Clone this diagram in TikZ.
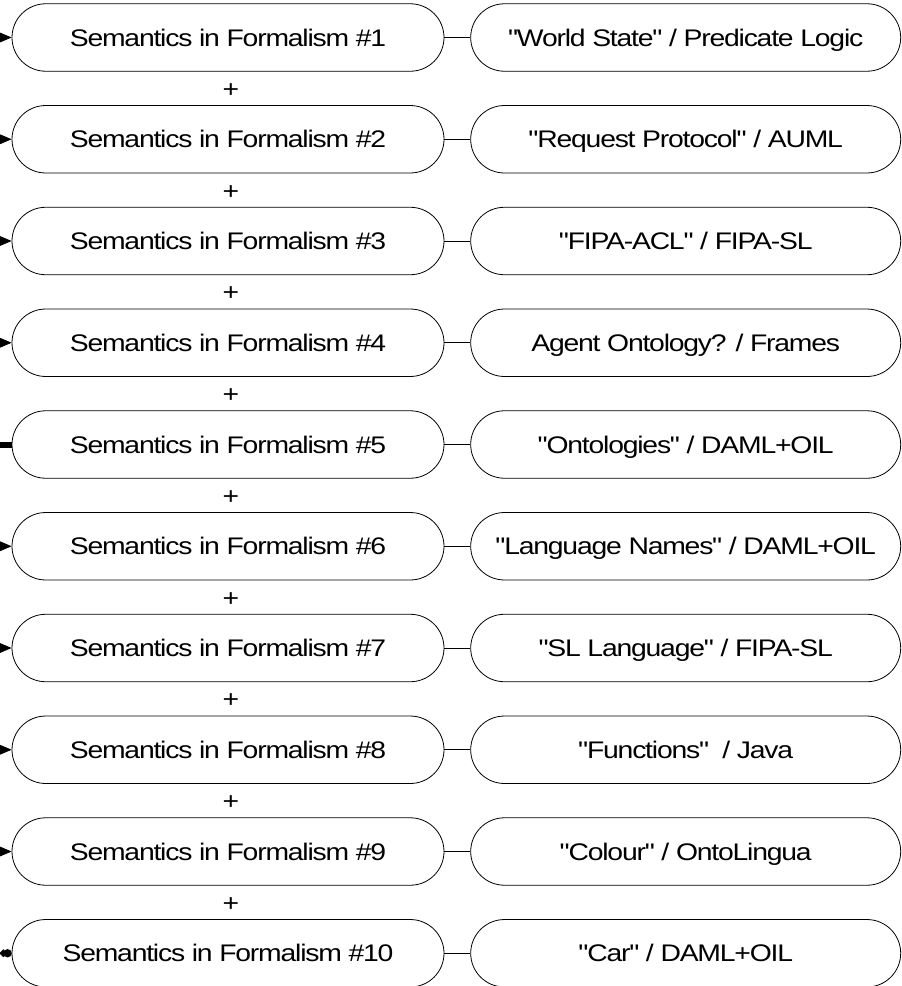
\documentclass[tikz,border=0pt]{standalone}
\usepackage{fontspec}
\setmainfont{Liberation Sans}[FakeStretch=1.18, LetterSpace=-5, Ligatures=TeXOff]
\usetikzlibrary{arrows.meta}
\begin{document}
\begin{tikzpicture}[x=0.75pt,y=-0.75pt,
  stadium/.style={draw, line width=0.6pt, rounded corners=25.3pt,
    minimum width=324pt, minimum height=50.6pt, inner sep=0pt,
    text height=12.9pt, text depth=0pt,
    font=\fontsize{18}{20}\selectfont},
  pluslbl/.style={font=\fontsize{18}{20}\selectfont, inner sep=0pt},
  link/.style={line width=0.6pt},
  inarrow/.style={line width=0.6pt, -{Triangle[length=9pt,width=7.5pt]}}]
\useasboundingbox (0,0) rectangle (901,986);
\foreach \i/\lt/\rt in {
  1/{Semantics in Formalism \#1}/{"World State" / Predicate Logic},
  2/{Semantics in Formalism \#2}/{"Request Protocol" / AUML},
  3/{Semantics in Formalism \#3}/{"FIPA-ACL" / FIPA-SL},
  4/{Semantics in Formalism \#4}/{Agent Ontology? / Frames},
  5/{Semantics in Formalism \#5}/{"Ontologies" / DAML+OIL},
  6/{Semantics in Formalism \#6}/{"Language Names" / DAML+OIL},
  7/{Semantics in Formalism \#7}/{"SL Language" / FIPA-SL},
  8/{Semantics in Formalism \#8}/{"Functions" \ / Java},
  9/{Semantics in Formalism \#9}/{"Colour" / OntoLingua},
  10/{Semantics in Formalism \#10}/{"Car" / DAML+OIL}}
{
  \pgfmathsetmacro{\yy}{37.5+(\i-1)*101.75}
  \node[stadium] (L\i) at (228,\yy) {\lt};
  \node[stadium, minimum width=322.5pt] (R\i) at (685.7,\yy) {\rt};
  \draw[link] (L\i.east) -- (R\i.west);
  \coordinate (a\i) at (0,\yy);
}
\foreach \i in {1,2,3,4,6,7,8,9}{
  \draw[inarrow] (a\i) -- (L\i.west);
}
\draw[line width=4.5pt] (a5) -- (L5.west);
\draw[line width=3pt, {Circle[length=5pt]}-{Circle[length=6pt]}] (a10) -- (L10.west);
\foreach \i in {1,...,9}{
  \pgfmathsetmacro{\yy}{37.5+(\i-1)*101.75+53}
  \node[pluslbl] (P\i) at (231,\yy) {+};
}
\end{tikzpicture}
\end{document}
